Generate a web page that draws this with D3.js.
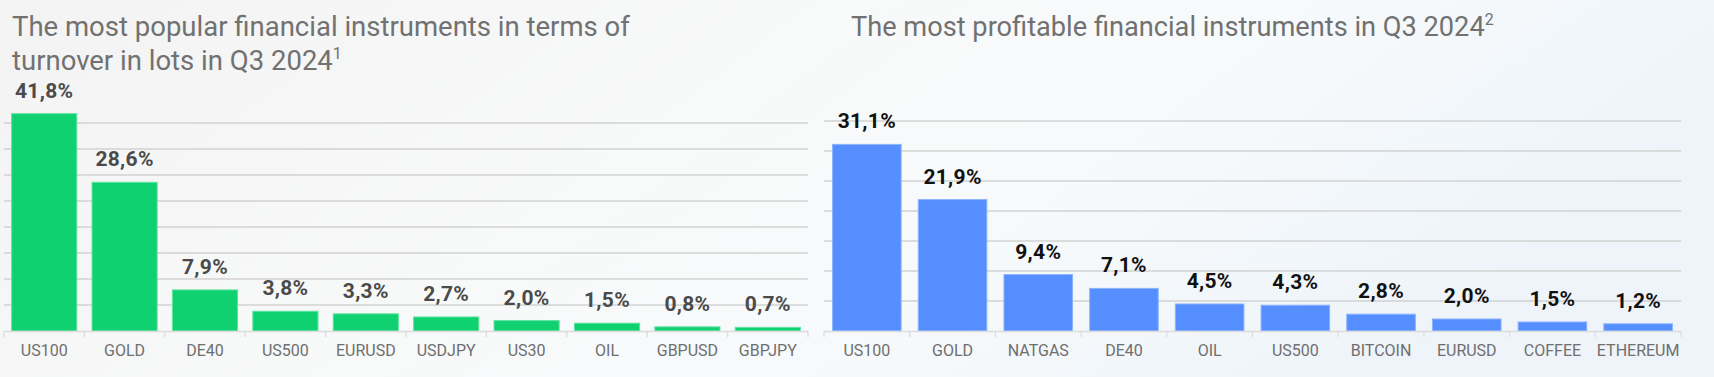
<!DOCTYPE html>
<html>
<head>
<meta charset="utf-8">
<script src="https://cdn.jsdelivr.net/npm/d3@7"></script>
<style>
  html, body { margin: 0; padding: 0; }
  body { width: 1714px; height: 377px; overflow: hidden; font-family: Roboto, "Noto Sans", sans-serif; }
  svg { display: block; }
</style>
</head>
<body>
<svg id="chart" width="1714" height="377"></svg>
<script>
// ---- Data ----
const leftTitleLines = ["The most popular financial instruments in terms of", "turnover in lots in Q3 2024"];
const leftTitleSup = "1";
const rightTitle = "The most profitable financial instruments in Q3 2024";
const rightTitleSup = "2";

const leftCategories = ["US100", "GOLD", "DE40", "US500", "EURUSD", "USDJPY", "US30", "OIL", "GBPUSD", "GBPJPY"];
const leftValues = [41.8, 28.6, 7.9, 3.8, 3.3, 2.7, 2.0, 1.5, 0.8, 0.7];
const leftGridTicks = [5, 10, 15, 20, 25, 30, 35, 40];

const rightCategories = ["US100", "GOLD", "NATGAS", "DE40", "OIL", "US500", "BITCOIN", "EURUSD", "COFFEE", "ETHEREUM"];
const rightValues = [31.1, 21.9, 9.4, 7.1, 4.5, 4.3, 2.8, 2.0, 1.5, 1.2];
const rightGridTicks = [5, 10, 15, 20, 25, 30, 35];

// ---- Drawing ----
const svg = d3.select("#chart");
const defs = svg.append("defs");
const bg = defs.append("linearGradient").attr("id", "bg").attr("x1", "0").attr("x2", "1").attr("y1", "0").attr("y2", "0.3");
bg.append("stop").attr("offset", "0%").attr("stop-color", "#f3f3f3");
bg.append("stop").attr("offset", "45%").attr("stop-color", "#f8f9f9");
bg.append("stop").attr("offset", "70%").attr("stop-color", "#f7fafc");
bg.append("stop").attr("offset", "100%").attr("stop-color", "#eef4f9");
svg.append("rect").attr("width", 1714).attr("height", 377).attr("fill", "url(#bg)");

const fmt = v => d3.format(".1f")(v).replace(".", ",") + "%";

function drawChart(cfg) {
  const g = svg.append("g");
  const x = d3.scaleBand().domain(cfg.categories).range([cfg.x0, cfg.x1])
    .paddingInner(cfg.pad).paddingOuter(cfg.pad / 2);
  const y = d3.scaleLinear().domain([0, cfg.yMax]).range([cfg.base, cfg.top]);

  // gridlines
  g.selectAll("line.grid").data(cfg.grid).join("line")
    .attr("x1", cfg.x0).attr("x2", cfg.x1)
    .attr("y1", d => y(d)).attr("y2", d => y(d))
    .attr("stroke", "#d2d2d2").attr("stroke-width", 1.3);

  // bars
  g.selectAll("rect.bar").data(cfg.values).join("rect")
    .attr("x", (d, i) => x(cfg.categories[i]))
    .attr("y", d => y(d))
    .attr("width", x.bandwidth())
    .attr("height", d => y(0) - y(d))
    .attr("fill", cfg.color)
    .attr("stroke", cfg.stroke).attr("stroke-width", 1);

  // baseline + boundary ticks
  g.append("line").attr("x1", cfg.x0).attr("x2", cfg.x1)
    .attr("y1", y(0) + 0.5).attr("y2", y(0) + 0.5)
    .attr("stroke", "#dcdcdc").attr("stroke-width", 1.3);
  const bounds = d3.range(cfg.categories.length + 1).map(i => cfg.x0 + i * x.step());
  g.selectAll("line.tick").data(bounds).join("line")
    .attr("x1", d => d).attr("x2", d => d)
    .attr("y1", y(0)).attr("y2", y(0) + 6)
    .attr("stroke", "#dcdcdc").attr("stroke-width", 1.3);

  // category labels
  const ax = g.append("g").attr("transform", `translate(0,${y(0)})`)
    .call(d3.axisBottom(x).tickSize(0).tickPadding(14));
  ax.select(".domain").remove();
  ax.selectAll("text").attr("font-family", "Roboto, sans-serif").attr("font-size", 16)
    .attr("fill", "#6f6f6f");

  // value labels
  g.selectAll("text.val").data(cfg.values).join("text")
    .attr("x", (d, i) => x(cfg.categories[i]) + x.bandwidth() / 2)
    .attr("y", d => y(d) - 16)
    .attr("text-anchor", "middle")
    .attr("font-family", "Roboto, sans-serif").attr("font-weight", 700)
    .attr("font-size", 21).attr("letter-spacing", 0.3)
    .attr("fill", cfg.labelColor)
    .text(d => fmt(d));
}

drawChart({
  categories: leftCategories, values: leftValues, grid: leftGridTicks,
  x0: 4, x1: 808, base: 331, top: 123, yMax: 40, pad: 0.19,
  color: "#10d170", stroke: "#5fe39f", labelColor: "#4a4a4a"
});
drawChart({
  categories: rightCategories, values: rightValues, grid: rightGridTicks,
  x0: 824, x1: 1681, base: 331, top: 121, yMax: 35, pad: 0.2,
  color: "#548eff", stroke: "#8cb2ff", labelColor: "#111111"
});

// titles
function title(lines, sup, x, y0, size) {
  const t = svg.append("g");
  lines.forEach((line, i) => {
    const txt = t.append("text").attr("x", x).attr("y", y0 + i * 34)
      .attr("font-family", "Roboto, sans-serif").attr("font-size", size)
      .attr("fill", "#717171").text(line);
    if (i === lines.length - 1) {
      txt.append("tspan").attr("font-size", 16).attr("dy", -11).text(sup);
    }
  });
}
title(leftTitleLines, leftTitleSup, 12, 36, 27.5);
title([rightTitle], rightTitleSup, 851, 36, 27.2);
</script>
</body>
</html>
